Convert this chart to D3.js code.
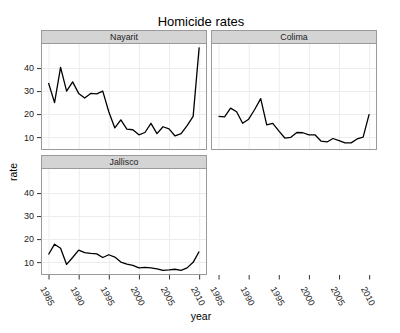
<!DOCTYPE html>
<html><head><meta charset="utf-8">
<script src="https://cdn.jsdelivr.net/npm/d3@7"></script>
<style>body{margin:0;background:#fff}svg{display:block}text{font-family:"Liberation Sans",Arial,Helvetica,sans-serif}</style>
</head><body>
<svg id="c" width="400" height="333"></svg>
<script>
const years = d3.range(1985, 2011);
const states = ["Nayarit", "Colima", "Jalisco"];
const stripLabels = ["Nayarit", "Colima", "Jallisco"];
const nayarit = [33.5,25,40.3,30,34,29,27,29,28.8,30,21,14,17.5,13.5,13.2,11,12,16,11.5,14.5,13.6,10.5,11.5,15,19,49];
const colima = [19,18.8,22.6,21,16,17.8,22,26.7,15.3,16,12.7,9.6,9.9,12,11.9,11,11,8.3,7.9,9.4,8.5,7.5,7.5,9.2,10,20];
const jalisco = [13.3,17.8,16,9,12,15.2,14.1,13.8,13.6,12,13.2,12.2,10,9.1,8.6,7.5,7.7,7.5,7.1,6.4,6.6,6.9,6.4,7.5,9.9,14.6];
const yTicks = [10,20,30,40];
const xTicks = [1985,1990,1995,2000,2005,2010];
const seriesByState = [nayarit, colima, jalisco];

const svg = d3.select("#c");
const colX = [41, 211], colW = 166;
const rows = [{strip:30, top:43, bottom:150}, {strip:155, top:168, bottom:275}];
const panels = [{col:0,row:0},{col:1,row:0},{col:0,row:1}];

svg.append("text").attr("x",201).attr("y",25.5).attr("text-anchor","middle")
  .attr("font-size",13).attr("fill","#000").text("Homicide rates");

panels.forEach((p,i)=>{
  const x0 = colX[p.col], r = rows[p.row];
  const x = d3.scaleLinear().domain([1983.75, 2011.3]).range([x0, x0+colW]);
  const y = d3.scaleLinear().domain([4.4, 50.9]).range([r.bottom, r.top]);
  const g = svg.append("g");
  // grid
  g.selectAll(".gx").data(xTicks).join("line")
    .attr("x1",d=>x(d)+0.5).attr("x2",d=>x(d)+0.5).attr("y1",r.top).attr("y2",r.bottom)
    .attr("stroke","#ececec").attr("stroke-width",1);
  g.selectAll(".gy").data(yTicks).join("line")
    .attr("y1",d=>Math.round(y(d))+0.5).attr("y2",d=>Math.round(y(d))+0.5).attr("x1",x0).attr("x2",x0+colW)
    .attr("stroke","#ececec").attr("stroke-width",1);
  // line
  const data = years.map((yr,k)=>({yr, v:seriesByState[i][k]}));
  g.append("path").datum(data)
    .attr("d", d3.line().x(d=>x(d.yr)).y(d=>y(d.v)))
    .attr("fill","none").attr("stroke","#000").attr("stroke-width",1.3).attr("stroke-linejoin","round");
  // panel border
  g.append("rect").attr("x",x0+0.5).attr("y",r.top+0.5).attr("width",colW-1).attr("height",r.bottom-r.top-1)
    .attr("fill","none").attr("stroke","#9a9a9a");
  // strip
  g.append("rect").attr("x",x0+0.5).attr("y",r.strip+0.5).attr("width",colW-1).attr("height",r.top-r.strip)
    .attr("fill","#d4d4d4").attr("stroke","#9a9a9a");
  g.append("text").attr("x",x0+colW/2).attr("y",(r.strip+r.top)/2+3.2).attr("text-anchor","middle")
    .attr("font-size",8.8).attr("fill","#222").text(stripLabels[i]);
  // left axis
  if (p.col===0) {
    const ax = d3.axisLeft(y).tickValues(yTicks).tickSize(4).tickPadding(3);
    const ag = g.append("g").attr("transform",`translate(${x0},0)`).call(ax);
    ag.select(".domain").remove();
    ag.selectAll("line").attr("stroke","#333");
    ag.selectAll("text").attr("font-size",9).attr("fill","#222")
      .style("font-family",'"Liberation Sans",Arial,sans-serif');
  }
});

// bottom axes for both columns, at the bottom of the layout
colX.forEach(x0=>{
  const x = d3.scaleLinear().domain([1983.75, 2011.3]).range([x0, x0+colW]);
  const yb = rows[1].bottom;
  svg.append("g").selectAll("line").data(xTicks).join("line")
    .attr("x1",d=>x(d)+0.5).attr("x2",d=>x(d)+0.5).attr("y1",yb).attr("y2",yb+4.5)
    .attr("stroke","#333");
  svg.append("g").selectAll("text").data(xTicks).join("text")
    .attr("transform",d=>`translate(${x(d)-1},296) rotate(62)`)
    .attr("text-anchor","middle").attr("dy","0.35em")
    .attr("font-size",9).attr("fill","#222").text(d=>d);
});

svg.append("text").attr("x",201).attr("y",320).attr("text-anchor","middle")
  .attr("font-size",10.5).attr("fill","#000").text("year");
svg.append("text").attr("transform","translate(17,172) rotate(-90)").attr("text-anchor","middle")
  .attr("font-size",10.5).attr("fill","#000").text("rate");
</script>
</body></html>
